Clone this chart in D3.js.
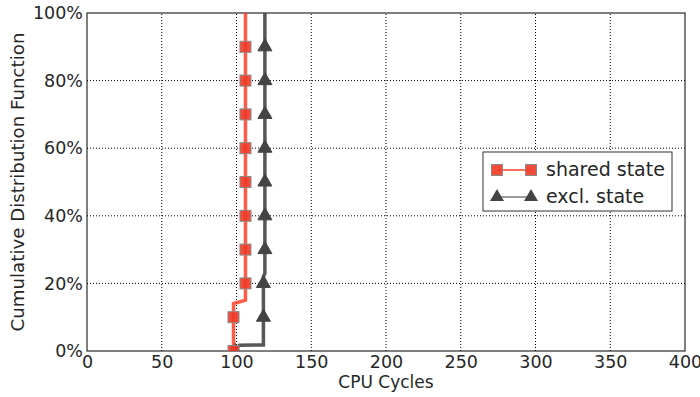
<!DOCTYPE html>
<html>
<head>
<meta charset="utf-8">
<script src="https://cdn.jsdelivr.net/npm/d3@7"></script>
<style>
  body { margin: 0; background: #fff; }
  text { font-family: "DejaVu Sans", sans-serif; fill: #262626; }
</style>
</head>
<body>
<div id="chart"></div>
<script>
// CDF curves, [cycles, fraction]
const sharedCurve = [[98, 0], [98, 0.14], [106, 0.15], [106, 1]];
const exclCurve = [[98, 0], [102, 0.017], [118, 0.018], [118, 0.22], [119, 0.23], [119, 1]];

// marker positions at every 10%
const markerFractions = [0, 0.1, 0.2, 0.3, 0.4, 0.5, 0.6, 0.7, 0.8, 0.9];
const sharedMarkers = [98, 98, 106, 106, 106, 106, 106, 106, 106, 106];
const exclMarkers = [99, 118, 118, 119, 119, 119, 119, 119, 119, 119];

const xTicks = [0, 50, 100, 150, 200, 250, 300, 350, 400];
const yTicks = [0, 0.2, 0.4, 0.6, 0.8, 1];

const width = 700,
  height = 397;
const margin = { left: 87, right: 15, top: 13, bottom: 46 };

const x = d3.scaleLinear().domain([0, 400]).range([margin.left, width - margin.right]);
const y = d3.scaleLinear().domain([0, 1]).range([height - margin.bottom, margin.top]);

const svg = d3
  .select("#chart")
  .append("svg")
  .attr("width", width)
  .attr("height", height);

// grid
svg
  .append("g")
  .selectAll("line")
  .data(xTicks.slice(1, -1))
  .join("line")
  .attr("x1", (d) => x(d))
  .attr("x2", (d) => x(d))
  .attr("y1", y(0))
  .attr("y2", y(1))
  .attr("stroke", "#000")
  .attr("stroke-dasharray", "1,2");

svg
  .append("g")
  .selectAll("line")
  .data(yTicks.slice(1, -1))
  .join("line")
  .attr("x1", x(0))
  .attr("x2", x(400))
  .attr("y1", (d) => y(d))
  .attr("y2", (d) => y(d))
  .attr("stroke", "#000")
  .attr("stroke-dasharray", "1,2");

// axes
const xAxis = svg
  .append("g")
  .attr("transform", `translate(0,${y(0)})`)
  .call(d3.axisBottom(x).tickValues(xTicks).tickSize(0).tickPadding(5));
const yAxis = svg
  .append("g")
  .attr("transform", `translate(${x(0)},0)`)
  .call(d3.axisLeft(y).tickValues(yTicks).tickFormat(d3.format(".0%")).tickSize(0).tickPadding(4));
[xAxis, yAxis].forEach((g) => {
  g.select(".domain").remove();
  g.selectAll("text").attr("font-size", 17.5).attr("font-family", null);
});

// frame
svg
  .append("rect")
  .attr("x", x(0))
  .attr("y", y(1))
  .attr("width", x(400) - x(0))
  .attr("height", y(0) - y(1))
  .attr("fill", "none")
  .attr("stroke", "#000");

const line = d3
  .line()
  .x((d) => x(d[0]))
  .y((d) => y(d[1]));

svg
  .append("clipPath")
  .attr("id", "clip")
  .append("rect")
  .attr("x", x(0))
  .attr("y", y(1))
  .attr("width", x(400) - x(0))
  .attr("height", y(0) - y(1));

const plot = svg.append("g").attr("clip-path", "url(#clip)");

plot
  .append("path")
  .datum(exclCurve)
  .attr("d", line)
  .attr("fill", "none")
  .attr("stroke", "#3a3a3a")
  .attr("stroke-opacity", 0.85)
  .attr("stroke-width", 3.5);

const tri = d3.symbol().type(d3.symbolTriangle).size(85);
plot
  .append("g")
  .selectAll("path")
  .data(exclMarkers)
  .join("path")
  .attr("transform", (d, i) => `translate(${x(d)},${y(markerFractions[i])})`)
  .attr("d", tri)
  .attr("fill", "#444")
  .attr("stroke", "#444");

plot
  .append("path")
  .datum(sharedCurve)
  .attr("d", line)
  .attr("fill", "none")
  .attr("stroke", "#ff4027")
  .attr("stroke-opacity", 0.85)
  .attr("stroke-width", 3.5);

plot
  .append("g")
  .selectAll("rect")
  .data(sharedMarkers)
  .join("rect")
  .attr("x", (d) => x(d) - 5.5)
  .attr("y", (d, i) => y(markerFractions[i]) - 5.5)
  .attr("width", 11)
  .attr("height", 11)
  .attr("fill", "#f03a25")
  .attr("fill-opacity", 0.9)
  .attr("stroke", "#8a8a8a")
  .attr("stroke-width", 1);

// axis labels
svg
  .append("text")
  .attr("x", (x(0) + x(400)) / 2)
  .attr("y", 388)
  .attr("text-anchor", "middle")
  .attr("font-size", 17)
  .text("CPU Cycles");

svg
  .append("text")
  .attr("transform", `translate(24,${(y(0) + y(1)) / 2}) rotate(-90)`)
  .attr("text-anchor", "middle")
  .attr("font-size", 18.2)
  .text("Cumulative Distribution Function");

// legend
const legend = svg.append("g").attr("transform", "translate(483,152)");
legend
  .append("rect")
  .attr("width", 189)
  .attr("height", 59)
  .attr("fill", "#fff")
  .attr("stroke", "#333");

const legendItems = [
  { label: "shared state", color: "#ff4027", cy: 18 },
  { label: "excl. state", color: "#3a3a3a", cy: 45 },
];
legendItems.forEach((d, i) => {
  legend
    .append("line")
    .attr("x1", 14)
    .attr("x2", 48)
    .attr("y1", d.cy)
    .attr("y2", d.cy)
    .attr("stroke", d.color)
    .attr("stroke-width", i === 0 ? 1.5 : 1);
  [14, 48].forEach((cx) => {
    if (i === 0) {
      legend
        .append("rect")
        .attr("x", cx - 5.5)
        .attr("y", d.cy - 5.5)
        .attr("width", 11)
        .attr("height", 11)
        .attr("fill", "#f03a25")
        .attr("fill-opacity", 0.9)
        .attr("stroke", "#8a8a8a");
    } else {
      legend
        .append("path")
        .attr("transform", `translate(${cx},${d.cy})`)
        .attr("d", tri)
        .attr("fill", "#444");
    }
  });
  legend
    .append("text")
    .attr("x", 63)
    .attr("y", d.cy + 6)
    .attr("font-size", 19)
    .text(d.label);
});
</script>
</body>
</html>
